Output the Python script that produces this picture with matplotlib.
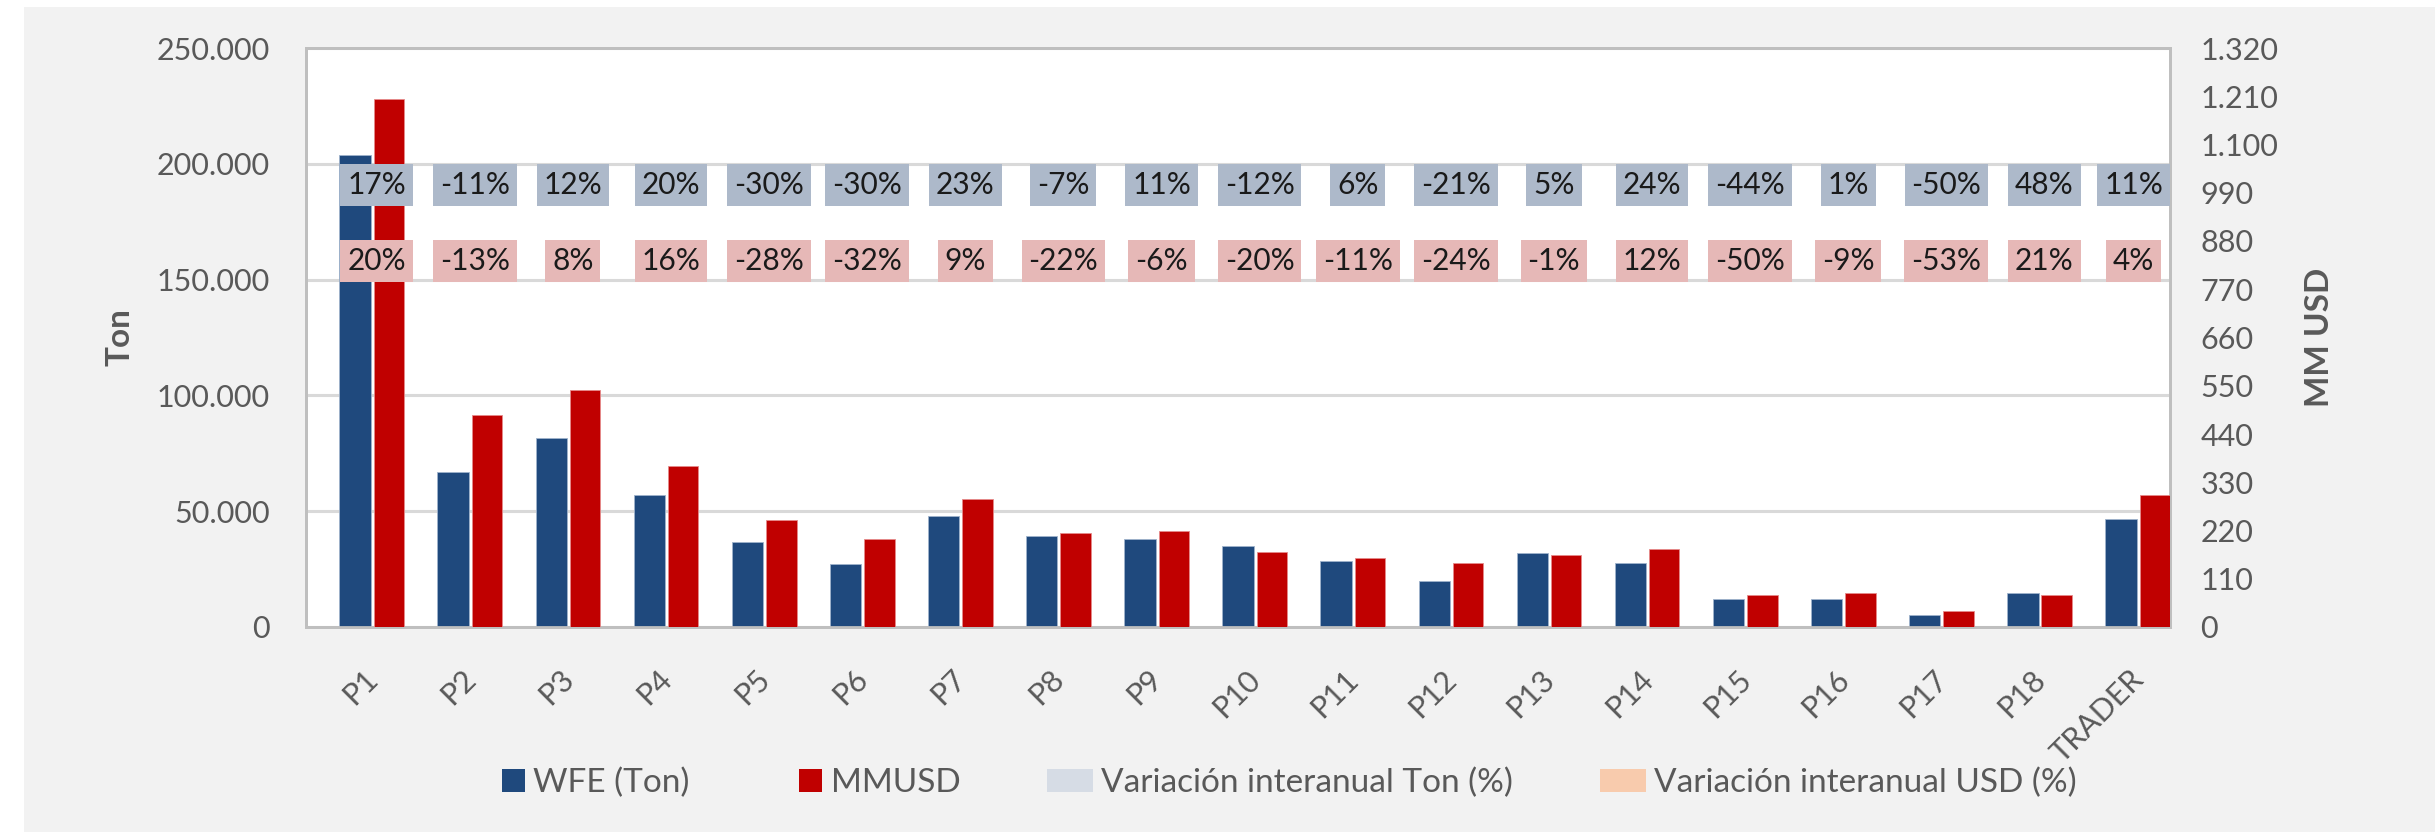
import numpy as np
import matplotlib
matplotlib.use("Agg")
import matplotlib.pyplot as plt
from matplotlib.patches import Patch, Rectangle
from matplotlib.ticker import FuncFormatter, MultipleLocator
from matplotlib.transforms import blended_transform_factory, ScaledTranslation
from matplotlib.legend_handler import HandlerPatch

plt.rcParams['font.family'] = ['Lato', 'DejaVu Sans']

# ---------------- data ----------------
categories = ["P1", "P2", "P3", "P4", "P5", "P6", "P7", "P8", "P9", "P10",
              "P11", "P12", "P13", "P14", "P15", "P16", "P17", "P18", "TRADER"]
wfe_ton = [204000, 67000, 81700, 57000, 36500, 27200, 47800, 39500, 38200, 34900,
           28500, 20000, 31800, 27800, 11900, 11900, 5300, 14500, 46500]
mmusd = [1203, 484, 540, 366, 244, 200, 291, 214, 219, 172,
         158, 145, 164, 177, 72, 77, 37, 72, 302]
var_ton = [17, -11, 12, 20, -30, -30, 23, -7, 11, -12, 6, -21, 5, 24, -44, 1, -50, 48, 11]
var_usd = [20, -13, 8, 16, -28, -32, 9, -22, -6, -20, -11, -24, -1, 12, -50, -9, -53, 21, 4]
legend_labels = ["WFE (Ton)", "MMUSD", "Variación interanual Ton (%)", "Variación interanual USD (%)"]

# ---------------- style ----------------
C_BLUE = "#1F497D"
C_RED = "#C00000"
C_LBL_TON = "#ADB9CA"
C_LBL_USD = "#E6B8B7"
C_LEG_TON = "#D6DCE5"
C_LEG_USD = "#F8CBAD"
C_TXT = "#595959"
C_GRID = "#D9D9D9"
C_SPINE = "#BFBFBF"

W, H = 2435, 832
DPI = 100
fig = plt.figure(figsize=(W / DPI, H / DPI), dpi=DPI)
fig.patch.set_facecolor("white")
fig.patches.append(Rectangle((24 / W, 0), 1 - 24 / W, 1 - 7 / H, transform=fig.transFigure,
                             facecolor="#F2F2F2", edgecolor="none", zorder=-10))

L, R, T, B = 306, 2170, 48, 627
ax = fig.add_axes([L / W, 1 - B / H, (R - L) / W, (B - T) / H])
ax.set_facecolor("white")
ax2 = ax.twinx()

idx = np.arange(len(categories))
ax.bar(idx, wfe_ton, width=0.32, color=C_BLUE, edgecolor="#9FB3CC", linewidth=0.6, zorder=3)
ax2.bar(idx + 0.345, mmusd, width=0.31, color=C_RED, edgecolor="#E58A8A", linewidth=0.6, zorder=3)

ax.set_xlim(-0.5, len(categories) - 0.5)
ax.set_ylim(0, 250000)
ax2.set_ylim(0, 1320)
ax.yaxis.set_major_locator(MultipleLocator(50000))
ax2.yaxis.set_major_locator(MultipleLocator(110))
fmt = FuncFormatter(lambda v, p: f"{int(round(v)):,}".replace(",", "."))
ax.yaxis.set_major_formatter(fmt)
ax2.yaxis.set_major_formatter(fmt)

ax.set_axisbelow(True)
ax.grid(axis="y", color=C_GRID, linewidth=2.2)
ax.grid(axis="x", visible=False)

for a in (ax, ax2):
    for s in a.spines.values():
        s.set_color(C_SPINE)
        s.set_linewidth(2)
    a.tick_params(length=0)

ax.tick_params(axis="y", labelsize=22, labelcolor=C_TXT, pad=26)
ax2.tick_params(axis="y", labelsize=22, labelcolor=C_TXT, pad=22)
ax.set_xticks(idx)
ax.set_xticklabels(categories, rotation=45, ha="right", rotation_mode="anchor")
ax.tick_params(axis="x", labelsize=22, labelcolor=C_TXT, pad=27)
shift = ScaledTranslation(8 / DPI, 0, fig.dpi_scale_trans)
for lbl in ax.get_xticklabels():
    lbl.set_transform(lbl.get_transform() + shift)

ax.set_ylabel("Ton", fontsize=24, fontweight="bold", color=C_TXT)
ax.yaxis.set_label_coords((135 - L) / (R - L), 0.5)
ax2.set_ylabel("MM USD", fontsize=24, fontweight="bold", color=C_TXT)
ax2.yaxis.set_label_coords((2305 - L) / (R - L), 0.5)

# percentage labels
trans = blended_transform_factory(ax2.transData, ax2.transAxes)
xlab = np.minimum(idx + 0.22, len(categories) - 0.5 - 0.37)
for x, vt, vu in zip(xlab, var_ton, var_usd):
    ax2.text(x, (B - 185) / (B - T), f"{vt}%", transform=trans, ha="center", va="center",
             fontsize=21.5, color="#1a1a1a", zorder=5,
             bbox=dict(boxstyle="square,pad=0.23", facecolor=C_LBL_TON, edgecolor="none"))
    ax2.text(x, (B - 261) / (B - T), f"{vu}%", transform=trans, ha="center", va="center",
             fontsize=21.5, color="#1a1a1a", zorder=5,
             bbox=dict(boxstyle="square,pad=0.23", facecolor=C_LBL_USD, edgecolor="none"))


# legend: dark series drawn as small squares, light series as wider boxes
def square_patch(legend, orig_handle, xdescent, ydescent, width, height, fontsize):
    return Rectangle((-xdescent + width - height, -ydescent), height, height)


def wide_patch(legend, orig_handle, xdescent, ydescent, width, height, fontsize):
    return Rectangle((-xdescent, -ydescent), width, height)


handles = [Patch(facecolor=c, edgecolor="none") for c in (C_BLUE, C_RED, C_LEG_TON, C_LEG_USD)]
hmap = {handles[0]: HandlerPatch(patch_func=square_patch),
        handles[1]: HandlerPatch(patch_func=square_patch),
        handles[2]: HandlerPatch(patch_func=wide_patch),
        handles[3]: HandlerPatch(patch_func=wide_patch)}
leg = fig.legend(handles, legend_labels, loc="center", bbox_to_anchor=(1278 / W, 1 - 783 / H),
                 ncol=4, frameon=False, fontsize=24, handlelength=1.38, handleheight=0.69,
                 handletextpad=0.25, columnspacing=2.6, handler_map=hmap)
for t in leg.get_texts():
    t.set_color(C_TXT)

fig.savefig("out.png", dpi=DPI, facecolor=fig.get_facecolor())
